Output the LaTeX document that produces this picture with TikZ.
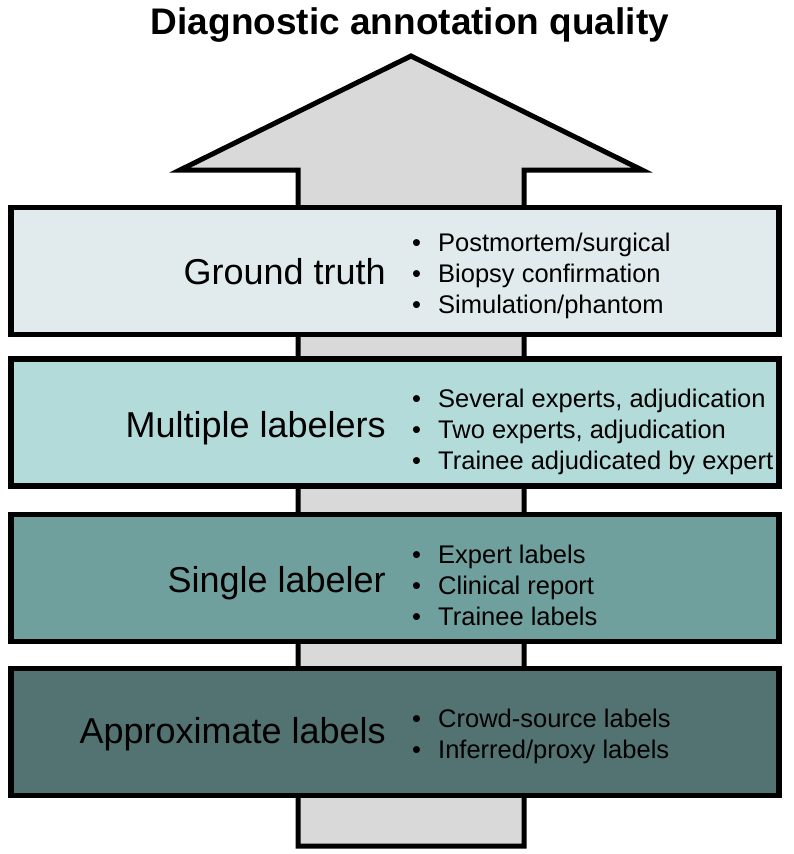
\documentclass[tikz,border=0pt]{standalone}
\usepackage{fontspec}
\setmainfont{Liberation Sans}
\definecolor{arrowgray}{HTML}{D9D9D9}
\definecolor{truthfill}{HTML}{E1EBED}
\definecolor{multifill}{HTML}{B2DBDA}
\definecolor{singlefill}{HTML}{70A09D}
\definecolor{approxfill}{HTML}{527371}
\newcommand\lvlitem[1]{\makebox[26pt][l]{\textbullet}#1}
\begin{document}
\begin{tikzpicture}[x=1pt,y=-1pt,
  level/.style={draw=black,line width=5.5pt,minimum width=768pt,minimum height=127pt,inner sep=0pt},
  levelname/.style={anchor=base east,inner sep=0pt,font=\fontsize{36}{42}\selectfont},
  levellist/.style={anchor=north west,inner sep=0pt,align=left,font=\fontsize{25.5}{31}\selectfont}]
\useasboundingbox (0,0) rectangle (794,854);
\node[anchor=base,inner sep=0pt,font=\bfseries\fontsize{37}{42}\selectfont] (title) at (410,34) {Diagnostic annotation quality};
\draw[fill=arrowgray,line width=5pt,line join=miter] (298,846) -- (298,170) -- (180,170) -- (411,56) -- (642,170) -- (524,170) -- (524,846) -- cycle;
\node[level,fill=truthfill] (truth) at (395,271) {};
\node[level,fill=multifill] (multi) at (395,422.5) {};
\node[level,fill=singlefill] (single) at (395,578) {};
\node[level,fill=approxfill] (approx) at (395,732) {};
\node[levelname] (truthname) at (386,284) {Ground truth};
\node[levelname] (multiname) at (386,437) {Multiple labelers};
\node[levelname] (singlename) at (386,592) {Single labeler};
\node[levelname] (approxname) at (386,743) {Approximate labels};
\node[levellist] (truthlist) at (412,231) {\rule{0pt}{20pt}\lvlitem{Postmortem/surgical}\\ \lvlitem{Biopsy confirmation}\\ \lvlitem{Simulation/phantom}};
\node[levellist] (multilist) at (412,387) {\rule{0pt}{20pt}\lvlitem{Several experts, adjudication}\\ \lvlitem{Two experts, adjudication}\\ \lvlitem{Trainee adjudicated by expert}};
\node[levellist] (singlelist) at (412,543) {\rule{0pt}{20pt}\lvlitem{Expert labels}\\ \lvlitem{Clinical report}\\ \lvlitem{Trainee labels}};
\node[levellist] (approxlist) at (412,707) {\rule{0pt}{20pt}\lvlitem{Crowd-source labels}\\ \lvlitem{Inferred/proxy labels}};
\end{tikzpicture}
\end{document}
